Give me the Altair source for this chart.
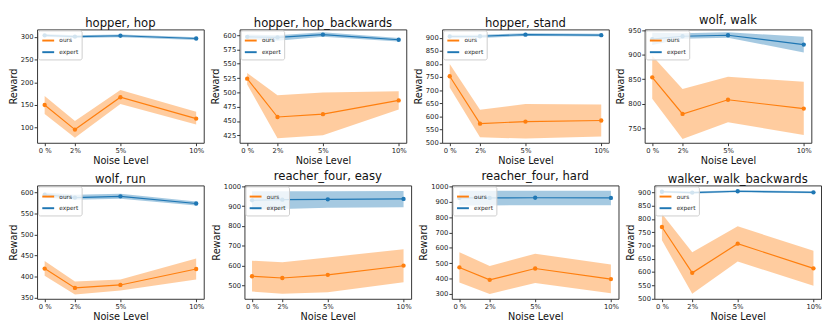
import altair as alt
import pandas as pd

NOISE = [0, 2, 5, 10]
NOISE_LABELS = ["0 %", "2%", "5%", "10%"]

TITLES = ["hopper, hop", "hopper, hop_backwards", "hopper, stand", "wolf, walk",
          "wolf, run", "reacher_four, easy", "reacher_four, hard", "walker, walk_backwards"]

OURS_MEAN = [[150, 96, 167, 120], [524, 457, 462, 486], [753, 572, 580, 584], [854, 779, 808, 790],
             [419, 373, 380, 418], [547, 538, 554, 600], [473, 392, 466, 397], [770, 597, 707, 614]]
OURS_LO = [[130, 78, 152, 107], [514, 420, 425, 470], [710, 520, 515, 523], [810, 728, 762, 736],
           [402, 357, 367, 393], [470, 458, 466, 516], [375, 300, 372, 305], [720, 518, 640, 548]]
OURS_HI = [[170, 115, 183, 135], [534, 495, 500, 502], [800, 625, 647, 645], [898, 830, 855, 845],
           [437, 388, 393, 443], [625, 618, 642, 683], [572, 483, 562, 492], [820, 675, 773, 680]]

EXPERT_MEAN = [[303, 300, 302, 296], [597, 596, 601, 592], [905, 906, 912, 910], [932, 938, 940, 921],
               [595, 588, 591, 574], [930, 933, 935, 937], [925, 925, 926, 925], [903, 900, 905, 901]]
EXPERT_LO = [[300, 297, 299, 293], [593, 590, 597, 589], [898, 899, 907, 905], [920, 933, 935, 905],
             [588, 583, 585, 569], [882, 886, 892, 895], [875, 876, 877, 877], [899, 896, 901, 897]]
EXPERT_HI = [[306, 303, 305, 299], [601, 600, 605, 595], [912, 912, 917, 915], [945, 944, 946, 937],
             [600, 595, 597, 579], [975, 976, 976, 977], [972, 972, 972, 972], [907, 904, 909, 905]]

Y_DOMAINS = [[67, 316], [412, 610], [499, 932], [720, 952],
             [347, 617], [433, 1005], [269, 1006], [499, 927]]
Y_TICKS = [[100, 150, 200, 250, 300], [425, 450, 475, 500, 525, 550, 575, 600],
           [500, 550, 600, 650, 700, 750, 800, 850, 900], [750, 800, 850, 900, 950],
           [350, 400, 450, 500, 550, 600], [500, 600, 700, 800, 900, 1000],
           [300, 400, 500, 600, 700, 800, 900, 1000], [500, 550, 600, 650, 700, 750, 800, 850, 900]]

SERIES = ["ours", "expert"]
COLORS = ["#ff7f0e", "#1f77b4"]

label_expr = " : ".join(
    [f"datum.value == {v} ? '{l}'" for v, l in zip(NOISE, NOISE_LABELS)] + ["''"]
)


def panel(i):
    rows = []
    for s, m, lo, hi in [("ours", OURS_MEAN[i], OURS_LO[i], OURS_HI[i]),
                         ("expert", EXPERT_MEAN[i], EXPERT_LO[i], EXPERT_HI[i])]:
        for x, a, b, c in zip(NOISE, m, lo, hi):
            rows.append({"noise": x, "mean": a, "lo": b, "hi": c, "series": s})
    df = pd.DataFrame(rows)
    xenc = alt.X("noise:Q", scale=alt.Scale(domain=[-0.5, 10.5], nice=False, zero=False),
                 axis=alt.Axis(values=NOISE, labelExpr=label_expr, title="Noise Level"))
    yscale = alt.Scale(domain=Y_DOMAINS[i], nice=False, zero=False)
    yaxis = alt.Axis(values=Y_TICKS[i], title="Reward", format="d")
    col = alt.Color("series:N", scale=alt.Scale(domain=SERIES, range=COLORS),
                    legend=alt.Legend(title=None, orient="top-left", symbolType="stroke"))
    base = alt.Chart(df)
    band = base.mark_area(opacity=0.4).encode(
        x=xenc,
        y=alt.Y("lo:Q", scale=yscale, axis=yaxis),
        y2="hi:Q",
        color=col,
    )
    line = base.mark_line(strokeWidth=1.2).encode(
        x=xenc,
        y=alt.Y("mean:Q", scale=yscale, axis=yaxis),
        color=col,
    )
    pts = base.mark_circle(size=20, opacity=1).encode(
        x=xenc,
        y=alt.Y("mean:Q", scale=yscale, axis=yaxis),
        color=col,
    )
    return alt.layer(band, line, pts).properties(
        width=172, height=117,
        title=alt.TitleParams(TITLES[i], fontSize=12, fontWeight="normal", offset=0),
    )


def row(idx):
    return alt.hconcat(*[panel(i) for i in idx], spacing=6).resolve_scale(
        y="independent", x="independent", color="independent"
    ).resolve_legend(color="independent")


chart = alt.vconcat(row([0, 1, 2, 3]), row([4, 5, 6, 7]), spacing=3).resolve_scale(
    y="independent", x="independent", color="independent"
).resolve_legend(color="independent").properties(
    padding={"left": 0, "top": 0, "right": 0, "bottom": 0}
).configure(
    font="DejaVu Sans",
).configure_view(
    stroke="#333", strokeWidth=1,
).configure_axis(
    domain=False, grid=False, labelFontSize=7, titleFontSize=10, titleFontWeight="normal",
    tickColor="#333", tickSize=3, labelColor="#222", titleColor="#111", labelPadding=1,
    titlePadding=2,
).configure_legend(
    labelFontSize=6, symbolSize=150, symbolStrokeWidth=2, symbolOpacity=1, rowPadding=0, padding=3,
    fillColor="rgba(255,255,255,0.8)", strokeColor="#ccc", cornerRadius=2, offset=1,
    labelColor="#222",
).configure_title(color="#111")

chart.save("out.html", embed_options={"renderer": "svg", "actions": False})
